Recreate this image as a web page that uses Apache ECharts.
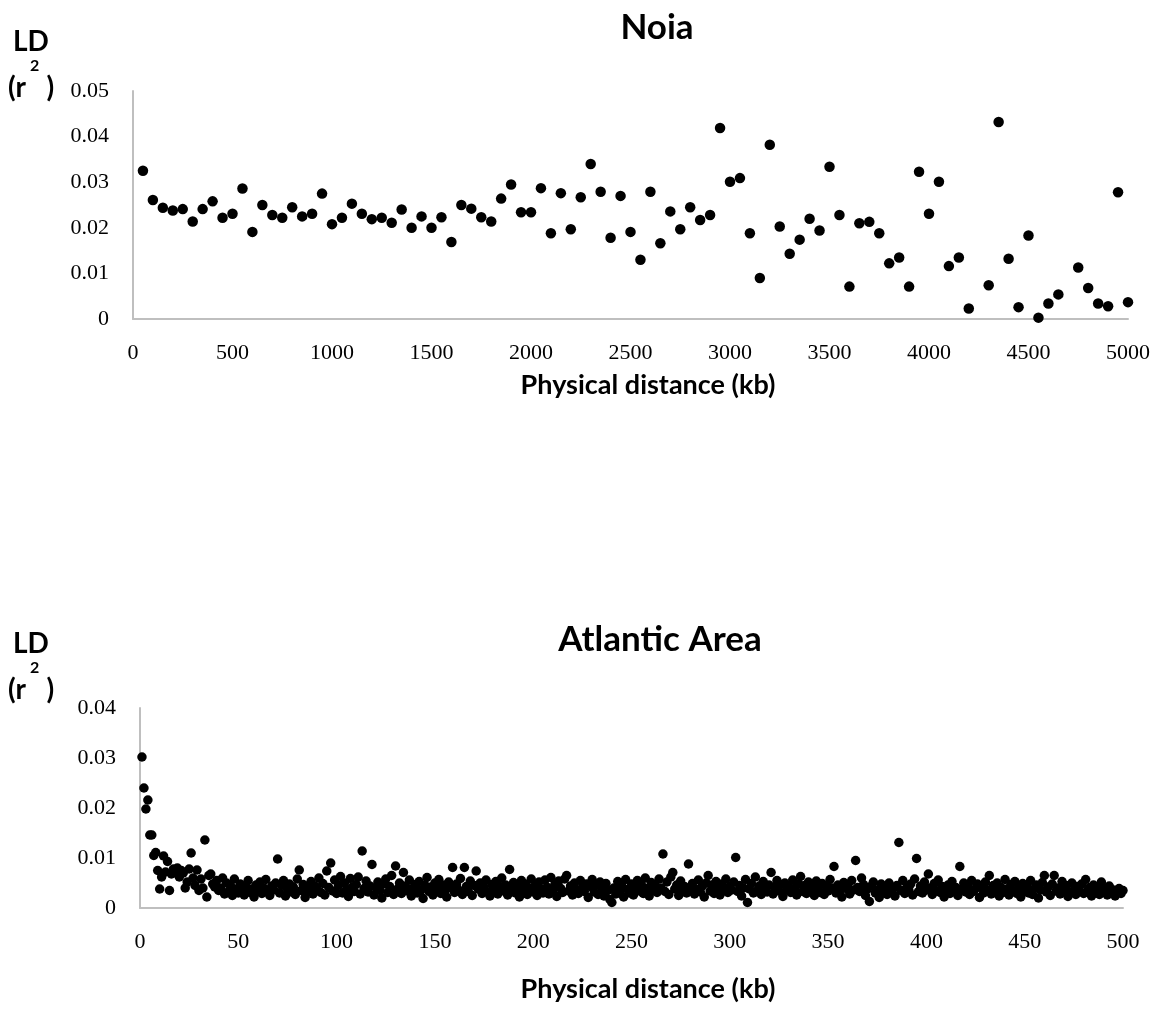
<!DOCTYPE html>
<html>
<head>
<meta charset="utf-8">
<script src="https://cdn.jsdelivr.net/npm/echarts@6/dist/echarts.min.js"></script>
<style>
html,body{margin:0;padding:0;background:#fff;}
#c{width:1157px;height:1010px;}
</style>
</head>
<body>
<div id="c"></div>
<script>
// ---- Noia (top chart) ----
const noiaDistance = [
  50,100,150,200,250,300,350,400,450,500,
  550,600,650,700,750,800,850,900,950,1000,
  1050,1100,1150,1200,1250,1300,1350,1400,1450,1500,
  1550,1600,1650,1700,1750,1800,1850,1900,1950,2000,
  2050,2100,2150,2200,2250,2300,2350,2400,2450,2500,
  2550,2600,2650,2700,2750,2800,2850,2900,2950,3000,
  3050,3100,3150,3200,3250,3300,3350,3400,3450,3500,
  3550,3600,3650,3700,3750,3800,3850,3900,3950,4000,
  4050,4100,4150,4200,4300,4350,4400,4450,4500,
  4550,4600,4650,4750,4800,4850,4900,4950,5000
];
const noiaLD = [
  0.0325,0.0261,0.0244,0.0238,0.0241,0.0214,0.0241,0.0258,0.0222,0.0231,
  0.0286,0.0191,0.0250,0.0228,0.0222,0.0245,0.0225,0.0231,0.0275,0.0208,
  0.0222,0.0253,0.0231,0.0219,0.0222,0.0211,0.0240,0.0200,0.0225,0.0200,
  0.0223,0.0169,0.0250,0.0242,0.0223,0.0214,0.0264,0.0295,0.0234,0.0234,
  0.0287,0.0188,0.0276,0.0197,0.0267,0.0340,0.0279,0.0178,0.0270,0.0191,
  0.0130,0.0279,0.0166,0.0236,0.0197,0.0245,0.0217,0.0228,0.0419,0.0301,
  0.0309,0.0188,0.0090,0.0382,0.0203,0.0143,0.0174,0.0220,0.0194,0.0334,
  0.0228,0.0071,0.0210,0.0213,0.0188,0.0122,0.0135,0.0071,0.0323,0.0231,
  0.0301,0.0116,0.0135,0.0023,0.0074,0.0432,0.0132,0.0026,0.0183,
  0.0003,0.0034,0.0054,0.0113,0.0068,0.0034,0.0028,0.0278,0.0037
];
const noiaXTicks = [0,500,1000,1500,2000,2500,3000,3500,4000,4500,5000];
const noiaYTicks = [0,0.01,0.02,0.03,0.04,0.05];

// ---- Atlantic Area (bottom chart), one value per kb from 1 to 500 ----
const atlanticDistance = Array.from({length: 500}, (_, i) => i + 1);
const atlanticLD = [
  0.0302,0.0240,0.0198,0.0216,0.0146,0.0146,0.0105,0.0111,0.0075,0.0038,
  0.0062,0.0104,0.0072,0.0093,0.0035,0.0068,0.0078,0.0072,0.0080,0.0062,
  0.0075,0.0070,0.0040,0.0052,0.0078,0.0110,0.0060,0.0045,0.0076,0.0035,
  0.0058,0.0040,0.0136,0.0022,0.0065,0.0068,0.0048,0.0042,0.0055,0.0035,
  0.0040,0.0060,0.0028,0.0050,0.0033,0.0045,0.0025,0.0058,0.0038,0.0030,
  0.0048,0.0035,0.0026,0.0042,0.0055,0.0031,0.0038,0.0022,0.0046,0.0034,
  0.0052,0.0029,0.0040,0.0057,0.0033,0.0025,0.0044,0.0036,0.0050,0.0098,
  0.0030,0.0045,0.0055,0.0024,0.0038,0.0048,0.0032,0.0042,0.0027,0.0058,
  0.0076,0.0035,0.0047,0.0021,0.0040,0.0033,0.0053,0.0028,0.0044,0.0037,
  0.0060,0.0031,0.0049,0.0026,0.0074,0.0041,0.0090,0.0034,0.0056,0.0029,
  0.0045,0.0063,0.0030,0.0050,0.0036,0.0023,0.0059,0.0042,0.0033,0.0047,
  0.0062,0.0028,0.0114,0.0039,0.0054,0.0032,0.0044,0.0087,0.0026,0.0041,
  0.0052,0.0035,0.0020,0.0048,0.0058,0.0031,0.0043,0.0065,0.0027,0.0084,
  0.0038,0.0050,0.0029,0.0071,0.0044,0.0034,0.0056,0.0024,0.0040,0.0047,
  0.0030,0.0053,0.0036,0.0019,0.0045,0.0061,0.0033,0.0042,0.0026,0.0050,
  0.0037,0.0057,0.0029,0.0046,0.0034,0.0022,0.0052,0.0040,0.0081,0.0031,
  0.0048,0.0036,0.0059,0.0027,0.0081,0.0043,0.0033,0.0054,0.0025,0.0045,
  0.0074,0.0038,0.0050,0.0029,0.0041,0.0056,0.0032,0.0024,0.0047,0.0035,
  0.0053,0.0028,0.0043,0.0060,0.0034,0.0046,0.0026,0.0077,0.0039,0.0051,
  0.0030,0.0044,0.0022,0.0055,0.0036,0.0048,0.0027,0.0040,0.0058,0.0032,
  0.0045,0.0025,0.0052,0.0037,0.0030,0.0056,0.0042,0.0028,0.0061,0.0035,
  0.0047,0.0023,0.0054,0.0039,0.0031,0.0058,0.0065,0.0034,0.0044,0.0026,
  0.0050,0.0036,0.0029,0.0055,0.0041,0.0033,0.0048,0.0021,0.0043,0.0057,
  0.0032,0.0046,0.0027,0.0052,0.0038,0.0024,0.0049,0.0035,0.0017,0.0011,
  0.0040,0.0028,0.0053,0.0033,0.0045,0.0022,0.0057,0.0037,0.0030,0.0048,
  0.0026,0.0042,0.0055,0.0034,0.0047,0.0029,0.0060,0.0039,0.0024,0.0051,
  0.0036,0.0045,0.0031,0.0058,0.0040,0.0108,0.0033,0.0052,0.0027,0.0062,
  0.0071,0.0038,0.0046,0.0025,0.0054,0.0035,0.0043,0.0030,0.0088,0.0041,
  0.0049,0.0028,0.0037,0.0056,0.0032,0.0044,0.0022,0.0050,0.0065,0.0034,
  0.0046,0.0029,0.0053,0.0039,0.0026,0.0048,0.0035,0.0058,0.0031,0.0043,
  0.0036,0.0052,0.0101,0.0033,0.0045,0.0024,0.0040,0.0057,0.0011,0.0038,
  0.0049,0.0030,0.0062,0.0035,0.0044,0.0027,0.0053,0.0039,0.0032,0.0046,
  0.0071,0.0028,0.0041,0.0055,0.0034,0.0047,0.0023,0.0050,0.0037,0.0043,
  0.0031,0.0056,0.0039,0.0026,0.0048,0.0063,0.0033,0.0045,0.0029,0.0052,
  0.0036,0.0042,0.0025,0.0054,0.0038,0.0031,0.0049,0.0027,0.0044,0.0034,
  0.0057,0.0040,0.0083,0.0030,0.0046,0.0035,0.0022,0.0051,0.0039,0.0043,
  0.0028,0.0055,0.0036,0.0095,0.0041,0.0033,0.0060,0.0047,0.0025,0.0038,
  0.0013,0.0044,0.0052,0.0030,0.0036,0.0021,0.0048,0.0034,0.0042,0.0027,
  0.0050,0.0032,0.0039,0.0024,0.0045,0.0131,0.0035,0.0055,0.0029,0.0041,
  0.0037,0.0048,0.0026,0.0058,0.0099,0.0033,0.0044,0.0030,0.0052,0.0036,
  0.0068,0.0040,0.0027,0.0049,0.0034,0.0056,0.0031,0.0043,0.0022,0.0038,
  0.0046,0.0029,0.0053,0.0035,0.0041,0.0025,0.0083,0.0037,0.0050,0.0032,
  0.0044,0.0027,0.0055,0.0033,0.0039,0.0048,0.0021,0.0042,0.0030,0.0052,
  0.0036,0.0065,0.0028,0.0045,0.0034,0.0050,0.0024,0.0041,0.0031,0.0057,
  0.0038,0.0026,0.0047,0.0033,0.0053,0.0029,0.0040,0.0022,0.0049,0.0035,
  0.0043,0.0030,0.0055,0.0027,0.0039,0.0046,0.0020,0.0036,0.0051,0.0065,
  0.0032,0.0042,0.0025,0.0048,0.0065,0.0034,0.0040,0.0028,0.0053,0.0037,
  0.0045,0.0023,0.0031,0.0050,0.0036,0.0027,0.0043,0.0033,0.0048,0.0029,
  0.0057,0.0035,0.0041,0.0024,0.0046,0.0031,0.0038,0.0027,0.0052,0.0034,
  0.0040,0.0026,0.0044,0.0030,0.0036,0.0024,0.0033,0.0039,0.0029,0.0035
];
const atlanticXTicks = [0,50,100,150,200,250,300,350,400,450,500];
const atlanticYTicks = [0,0.01,0.02,0.03,0.04];

const titleTexts = ['Noia', 'Atlantic Area'];
const xAxisTitle = 'Physical distance (kb)';

const chart = echarts.init(document.getElementById('c'), null, {renderer: 'canvas'});

const tickFont = {fontFamily: '"Liberation Serif", "Times New Roman", serif', fontSize: 22, color: '#000'};
const boldFont = '"Lato", "Noto Sans", sans-serif';
const axisLineStyle = {color: '#bfbfbf', width: 2};

function pairs(xs, ys) { return xs.map((x, i) => [x, ys[i]]); }

function xAxisCfg(gridIndex, ticks) {
  return {
    type: 'value', gridIndex: gridIndex,
    min: ticks[0], max: ticks[ticks.length - 1], interval: ticks[1] - ticks[0],
    axisLine: {show: true, lineStyle: axisLineStyle},
    axisTick: {show: false},
    splitLine: {show: false},
    axisLabel: Object.assign({margin: 23, formatter: v => String(v)}, tickFont)
  };
}
function yAxisCfg(gridIndex, ticks) {
  return {
    type: 'value', gridIndex: gridIndex,
    min: ticks[0], max: ticks[ticks.length - 1], interval: ticks[1] - ticks[0],
    axisLine: {show: true, lineStyle: axisLineStyle},
    axisTick: {show: false},
    splitLine: {show: false},
    axisLabel: Object.assign({margin: 24, formatter: v => (v === 0 ? '0' : v.toFixed(2))}, tickFont)
  };
}

function ldLabel(top) {
  return [
    {type: 'text', left: 13, top: top, style: {text: 'LD', font: 'bold 28px ' + boldFont, fill: '#000'}},
    {type: 'text', left: 30, top: top + 30, style: {text: '2', font: 'bold 16px ' + boldFont, fill: '#000'}},
    {type: 'text', left: 8, top: top + 46, style: {text: '(r   )', font: 'bold 28px ' + boldFont, fill: '#000'}}
  ];
}

chart.setOption({
  animation: false,
  backgroundColor: '#fff',
  title: [
    {text: titleTexts[0], left: 652, top: 5, textAlign: 'center',
     textStyle: {fontFamily: boldFont, fontWeight: 'bold', fontSize: 35, color: '#000'}},
    {text: titleTexts[1], left: 655, top: 617, textAlign: 'center',
     textStyle: {fontFamily: boldFont, fontWeight: 'bold', fontSize: 35, color: '#000'}},
    {text: xAxisTitle, left: 643, top: 367, textAlign: 'center',
     textStyle: {fontFamily: boldFont, fontWeight: 'bold', fontSize: 27, color: '#000'}},
    {text: xAxisTitle, left: 643, top: 971, textAlign: 'center',
     textStyle: {fontFamily: boldFont, fontWeight: 'bold', fontSize: 27, color: '#000'}}
  ],
  graphic: ldLabel(28).concat(ldLabel(630)),
  grid: [
    {left: 133, width: 995, top: 91, height: 228},
    {left: 140, width: 983, top: 708, height: 200}
  ],
  xAxis: [xAxisCfg(0, noiaXTicks), xAxisCfg(1, atlanticXTicks)],
  yAxis: [yAxisCfg(0, noiaYTicks), yAxisCfg(1, atlanticYTicks)],
  series: [
    {type: 'scatter', xAxisIndex: 0, yAxisIndex: 0, symbol: 'circle', symbolSize: 10.5,
     itemStyle: {color: '#000', opacity: 1}, data: pairs(noiaDistance, noiaLD)},
    {type: 'scatter', xAxisIndex: 1, yAxisIndex: 1, symbol: 'circle', symbolSize: 9.5,
     itemStyle: {color: '#000', opacity: 1}, data: pairs(atlanticDistance, atlanticLD)}
  ]
});
</script>
</body>
</html>
